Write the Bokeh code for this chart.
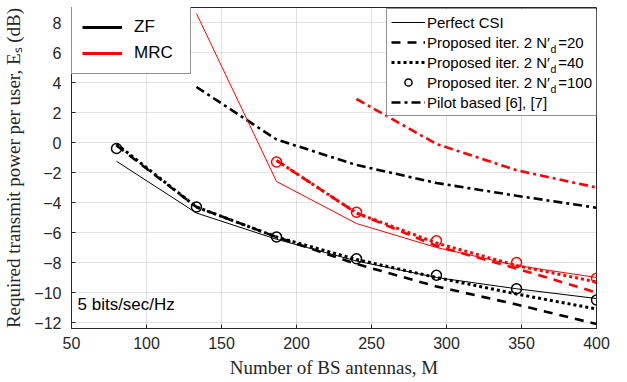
from bokeh.plotting import figure
from bokeh.models import Range1d, Legend, LegendItem, Label, FixedTicker, BoxAnnotation
from bokeh.embed import file_html
from bokeh.resources import INLINE

nan = float("nan")

# Number of BS antennas
M = [80, 133.3, 186.7, 240, 293.3, 346.7, 400]

# ZF curves (dB)
zf_perfect = [-1.25, -4.7, -6.45, -7.9, -9.0, -9.75, -10.4]
zf_nd20 = [-0.2, -4.3, -6.3, -8.1, -9.6, -10.8, -12.1]
zf_nd40 = [-0.1, -4.3, -6.3, -7.8, -9.0, -10.1, -11.1]
zf_nd100 = [-0.4, -4.3, -6.3, -7.75, -8.85, -9.75, -10.5]
zf_pilot = [nan, 3.7, 0.2, -1.5, -2.7, -3.55, -4.35]

# MRC curves (dB)
mrc_perfect = [nan, 8.6, -2.6, -5.4, -7.0, -8.2, -9.0]
mrc_nd20 = [nan, nan, -1.2, -4.7, -6.9, -8.4, -10.0]
mrc_nd40 = [nan, nan, -1.2, -4.7, -6.7, -8.2, -9.3]
mrc_nd100 = [nan, nan, -1.3, -4.65, -6.55, -8.0, -9.05]
mrc_pilot = [nan, nan, nan, 2.9, -0.1, -1.85, -3.0]

x_ticks = [50, 100, 150, 200, 250, 300, 350, 400]
y_ticks = [-12, -10, -8, -6, -4, -2, 0, 2, 4, 6, 8]
nd_vals = ["20", "40", "100"]

BLACK = "#000000"
RED = "#ff0000"
AX = "#262626"
SANS = "Liberation Sans"
SERIF = "Liberation Serif"

p = figure(width=627, height=382, output_backend="svg", toolbar_location=None,
           x_range=Range1d(50, 400), y_range=Range1d(-12.4, 9),
           min_border_left=70, min_border_right=31, min_border_top=7, min_border_bottom=54)
p.background_fill_color = "white"
p.border_fill_color = "white"
p.outline_line_color = AX
p.outline_line_width = 1

for ax in (p.xaxis[0], p.yaxis[0]):
    ax.major_tick_in = 4
    ax.major_tick_out = 0
    ax.minor_tick_line_color = None
    ax.axis_line_color = AX
    ax.major_tick_line_color = AX
    ax.major_label_text_color = AX
    ax.major_label_text_font = SANS
    ax.major_label_text_font_size = "16px"
    ax.axis_label_text_font = SERIF
    ax.axis_label_text_font_style = "normal"
    ax.axis_label_text_font_size = "19px"
    ax.axis_label_text_color = AX

p.xaxis[0].ticker = FixedTicker(ticks=x_ticks)
p.yaxis[0].ticker = FixedTicker(ticks=y_ticks)
p.xaxis[0].axis_label = "Number of BS antennas, M"
p.yaxis[0].axis_label = "Required transmit power per user, E\u209b (dB)"
p.xaxis[0].major_label_standoff = 8
p.xaxis[0].axis_label_standoff = 5
p.yaxis[0].major_label_standoff = 10
p.yaxis[0].axis_label_standoff = 7

p.xgrid.ticker = FixedTicker(ticks=x_ticks)
p.ygrid.ticker = FixedTicker(ticks=y_ticks)
p.grid.grid_line_color = "#262626"
p.grid.grid_line_alpha = 0.13

def draw(color, perfect, nd20, nd40, nd100, pilot):
    p.line(M, perfect, line_color=color, line_width=1)
    p.line(M, nd20, line_color=color, line_width=2.6, line_dash="9 7")
    p.line(M, nd40, line_color=color, line_width=3, line_dash="3 3")
    p.scatter(M, nd100, marker="circle", size=10, line_color=color, line_width=1.5,
              fill_color=None)
    p.line(M, pilot, line_color=color, line_width=2.6, line_dash="9 4 3 4")

draw(BLACK, zf_perfect, zf_nd20, zf_nd40, zf_nd100, zf_pilot)
draw(RED, mrc_perfect, mrc_nd20, mrc_nd40, mrc_nd100, mrc_pilot)

# legend sample renderers (nothing drawn in the plot area)
e = dict(x=[nan, nan], y=[nan, nan])
r_zf = p.line(**e, line_color=BLACK, line_width=3)
r_mrc = p.line(**e, line_color=RED, line_width=3)
r_pc = p.line(**e, line_color=BLACK, line_width=1)
r_20 = p.line(**e, line_color=BLACK, line_width=2.6, line_dash="9 7")
r_40 = p.line(**e, line_color=BLACK, line_width=3, line_dash="3 3")
r_100 = p.scatter(**e, marker="circle", size=9, line_color=BLACK, line_width=1.5, fill_color=None)
r_pil = p.line(**e, line_color=BLACK, line_width=2.6, line_dash="9 4 3 4")

leg1 = Legend(items=[LegendItem(label="ZF", renderers=[r_zf]),
                     LegendItem(label="MRC", renderers=[r_mrc])],
              location=(0, 254), padding=10, spacing=6, glyph_width=40, glyph_height=20,
              label_height=20, label_width=46, label_standoff=12, margin=0,
              label_text_font=SANS, label_text_font_size="17px", label_text_color=BLACK,
              border_line_color=AX, border_line_width=1, background_fill_alpha=1)
p.add_layout(leg1)

# white backing for the second legend (legend itself is transparent so the
# subscript labels show on top of its background)
p.add_layout(BoxAnnotation(left=315, right=525, bottom=212, top=318,
                           left_units="screen", right_units="screen",
                           bottom_units="screen", top_units="screen",
                           fill_color="white", fill_alpha=1, line_color=None))

NP = "Proposed iter. 2 N\u2032\u00a0\u00a0="
leg2 = Legend(items=[LegendItem(label="Perfect CSI", renderers=[r_pc]),
                     LegendItem(label=NP + nd_vals[0], renderers=[r_20]),
                     LegendItem(label=NP + nd_vals[1], renderers=[r_40]),
                     LegendItem(label=NP + nd_vals[2], renderers=[r_100]),
                     LegendItem(label="Pilot based [6], [7]", renderers=[r_pil])],
              location=(315, 212), padding=4, spacing=2, glyph_width=34, glyph_height=18,
              label_height=18, label_width=164, label_standoff=2, margin=0,
              label_text_font=SANS, label_text_font_size="15px", label_text_color=BLACK,
              border_line_color=AX, border_line_width=1, background_fill_alpha=0)
p.add_layout(leg2)

# subscript d of N'_d
for yy in [280, 260, 240]:
    p.add_layout(Label(x=479, y=yy, x_units="screen", y_units="screen", text="d",
                       text_font=SANS, text_font_size="10.5px", text_color=BLACK,
                       text_baseline="middle"))

p.add_layout(Label(x=6, y=24, x_units="screen", y_units="screen", text="5 bits/sec/Hz",
                   text_font=SANS, text_font_size="17px", text_color=BLACK,
                   text_baseline="middle"))

open("out.html", "w").write(file_html(p, INLINE))
